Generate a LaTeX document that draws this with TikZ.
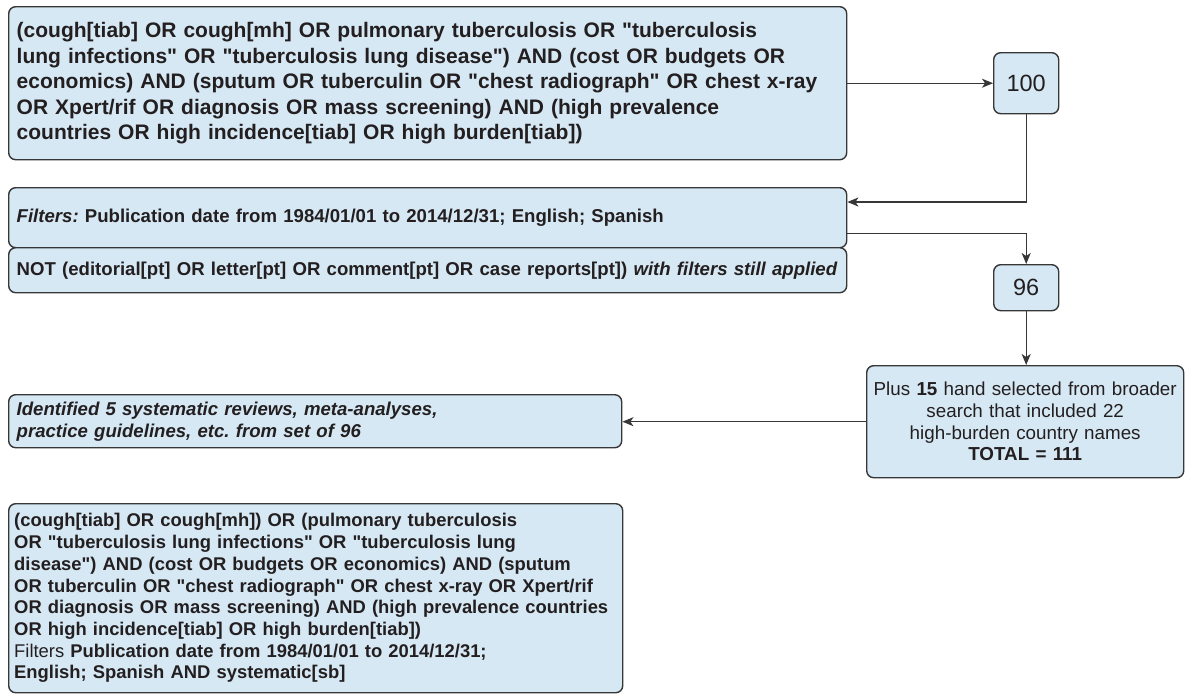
\documentclass[tikz,border=0pt]{standalone}
\usepackage{fontspec}
\setmainfont{Liberation Sans}[Ligatures=TeXOff]
\usetikzlibrary{arrows.meta,calc}
\definecolor{boxfill}{RGB}{214,232,244}
\definecolor{boxdraw}{RGB}{55,55,55}
\definecolor{txt}{RGB}{35,31,32}
\newcommand{\dq}{\symbol{34}}
\frenchspacing
\hyphenpenalty=10000
\exhyphenpenalty=10000
\tikzset{
  box/.style={draw=boxdraw, fill=boxfill, line width=1.4pt, rounded corners=7pt,
    anchor=north west, inner xsep=10pt, inner ysep=0pt, text=txt, align=left},
  numbox/.style={draw=boxdraw, fill=boxfill, line width=1.4pt, rounded corners=7pt,
    anchor=north west, inner sep=0pt, text=txt, font=\fontsize{23.5}{26}\selectfont},
  arr/.style={draw=boxdraw, line width=1.3pt, -{Stealth[length=11pt,width=9pt,inset=3pt]}}
}
\begin{document}
\begin{tikzpicture}[x=1pt,y=-1pt]
\useasboundingbox[fill=white] (0,0) rectangle (1186,699);
% main query
\node[box, minimum width=838pt, minimum height=153pt, text width=822pt, inner xsep=8pt,
  font=\fontsize{21}{25.5}\selectfont\bfseries] (b1) at (8,6)
  {(cough[tiab] OR cough[mh] OR pulmonary tuberculosis OR \dq tuberculosis\\
   lung infections\dq{} OR \dq tuberculosis lung disease\dq) AND (cost OR budgets OR\\
   economics) AND (sputum OR tuberculin OR \dq chest radiograph\dq{} OR chest x-ray\\
   OR Xpert/rif OR diagnosis OR mass screening) AND (high prevalence\\
   countries OR high incidence[tiab] OR high burden[tiab])};
\node[numbox, minimum width=65pt, minimum height=61pt] (n100) at (993,52) {100};
% filters
\node[box, minimum width=838pt, minimum height=60pt, text width=822pt, inner xsep=8pt,
  font=\fontsize{18.6}{22}\selectfont\bfseries] (filt) at (8,187)
  {\textit{Filters:} Publication date from 1984/01/01 to 2014/12/31; English; Spanish};
\node[box, minimum width=838pt, minimum height=45pt, text width=822pt, inner xsep=8pt,
  font=\fontsize{18.6}{22}\selectfont\bfseries] (notb) at (8,247)
  {NOT (editorial[pt] OR letter[pt] OR comment[pt] OR case reports[pt]) \textit{with filters still applied}};
\node[numbox, minimum width=65pt, minimum height=46pt] (n96) at (993,264) {96};
% plus
\node[box, align=center, minimum width=317pt, minimum height=112pt, text width=311pt, inner xsep=3pt,
  font=\fontsize{18.8}{21.7}\selectfont] (plus) at (866,365)
  {Plus \textbf{15} hand selected from broader\\
   search that included 22\\
   high-burden country names\\
   \textbf{TOTAL = 111}};
% identified
\node[box, minimum width=613pt, minimum height=53pt, text width=597pt, inner xsep=8pt,
  font=\fontsize{18.6}{22}\selectfont\bfseries\itshape] (ident) at (8,394)
  {Identified 5 systematic reviews, meta-analyses,\\
   practice guidelines, etc. from set of 96};
% bottom query
\node[box, minimum width=614pt, minimum height=189pt, text width=603pt, inner xsep=5.5pt,
  font=\fontsize{18.4}{21.7}\selectfont\bfseries] (b2) at (8,503)
  {(cough[tiab] OR cough[mh]) OR (pulmonary tuberculosis\\
   OR \dq tuberculosis lung infections\dq{} OR \dq tuberculosis lung\\
   disease\dq) AND (cost OR budgets OR economics) AND (sputum\\
   OR tuberculin OR \dq chest radiograph\dq{} OR chest x-ray OR Xpert/rif\\
   OR diagnosis OR mass screening) AND (high prevalence countries\\
   OR high incidence[tiab] OR high burden[tiab])\\
   \textmd{Filters} Publication date from 1984/01/01 to 2014/12/31;\\
   English; Spanish AND systematic[sb]};
% connectors
\draw[arr] (b1.east |- n100.west) -- (n100.west);
\draw[arr] (n100.south) |- ([yshift=-15pt]filt.north east);
\draw[arr] ([yshift=15pt]filt.south east) -| (n96.north);
\draw[arr] (n96.south) -- (n96.south |- plus.north);
\draw[arr] (plus.west) -- (plus.west -| ident.east);
\end{tikzpicture}
\end{document}
